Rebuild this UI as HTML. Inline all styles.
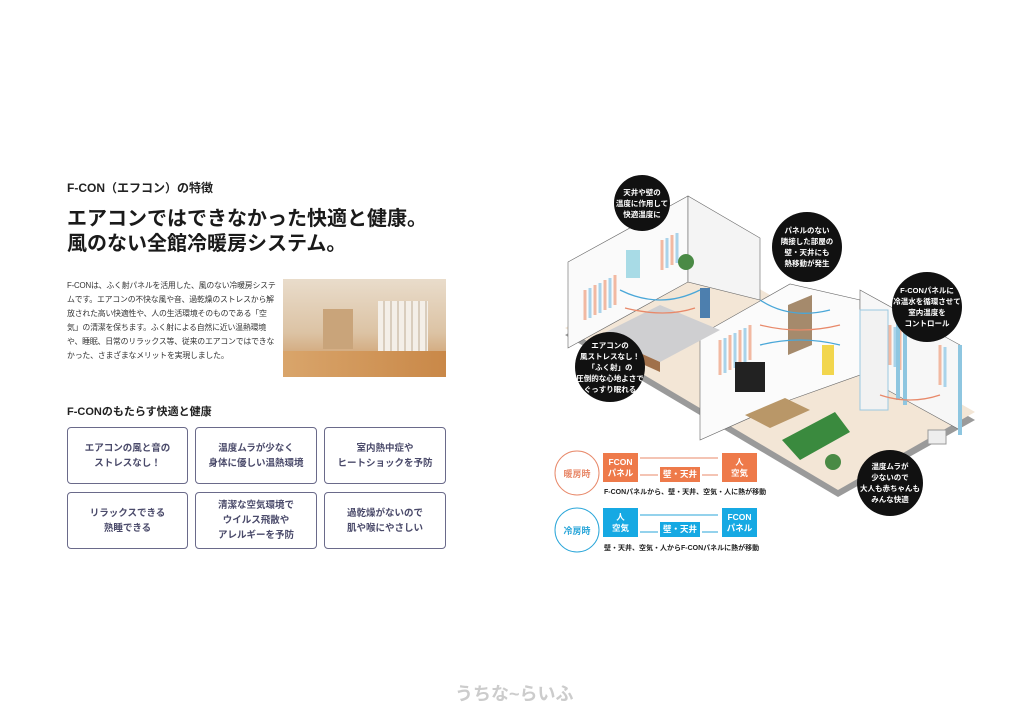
<!DOCTYPE html>
<html><head><meta charset="utf-8"><style>
*{margin:0;padding:0;box-sizing:border-box}
body{width:1024px;height:726px;background:#fff;position:relative;overflow:hidden;font-family:"Liberation Sans","Noto Sans CJK JP",sans-serif;color:#222}
.a{position:absolute}
.box{position:absolute;border:1.5px solid #6a6a8a;border-radius:4px;display:flex;align-items:center;justify-content:center;text-align:center;font-size:9.5px;font-weight:bold;color:#4a4a6a;line-height:15px}
.bub{position:absolute;border-radius:50%;background:#111;color:#fff;font-size:7.5px;font-weight:bold;display:flex;align-items:center;justify-content:center;text-align:center;line-height:11px}
.lb{position:absolute;color:#fff;font-size:8.5px;font-weight:bold;display:flex;align-items:center;justify-content:center;text-align:center;line-height:11px}
</style></head><body>
<div class="a" style="left:67px;top:179px;font-size:12px;font-weight:bold">F-CON（エフコン）の特徴</div>
<div class="a" style="left:67px;top:207px;font-size:20px;font-weight:bold;line-height:25px;color:#1a1a1a">エアコンではできなかった快適と健康。<br>風のない全館冷暖房システム。</div>
<div class="a" style="left:67px;top:279px;font-size:7.9px;line-height:14px;color:#333;width:210px;letter-spacing:-0.2px">F-CONは、ふく射パネルを活用した、風のない冷暖房システムです。エアコンの不快な風や音、過乾燥のストレスから解放された高い快適性や、人の生活環境そのものである「空気」の清潔を保ちます。ふく射による自然に近い温熱環境や、睡眠、日常のリラックス等、従来のエアコンではできなかった、さまざまなメリットを実現しました。</div>
<div class="a" style="left:283px;top:279px;width:163px;height:98px;background:linear-gradient(180deg,#e9dccb 0%,#dcc3a4 55%,#c98f55 100%)">
<div class="a" style="left:95px;top:22px;width:50px;height:58px;background:repeating-linear-gradient(90deg,#f4efe8 0 5px,#d9cdbd 5px 7px)"></div>
<div class="a" style="left:40px;top:30px;width:30px;height:40px;background:#c9a47a"></div>
<div class="a" style="left:0;top:72px;width:163px;height:26px;background:linear-gradient(90deg,#d9a56b,#c98848)"></div></div>
<div class="a" style="left:67px;top:403px;font-size:11px;font-weight:bold">F-CONのもたらす快適と健康</div>
<div class="box" style="left:67px;top:427px;width:121px;height:57px">エアコンの風と音の<br>ストレスなし！</div>
<div class="box" style="left:195px;top:427px;width:122px;height:57px">温度ムラが少なく<br>身体に優しい温熱環境</div>
<div class="box" style="left:324px;top:427px;width:122px;height:57px">室内熱中症や<br>ヒートショックを予防</div>
<div class="box" style="left:67px;top:492px;width:121px;height:57px">リラックスできる<br>熟睡できる</div>
<div class="box" style="left:195px;top:492px;width:122px;height:57px">清潔な空気環境で<br>ウイルス飛散や<br>アレルギーを予防</div>
<div class="box" style="left:324px;top:492px;width:122px;height:57px">過乾燥がないので<br>肌や喉にやさしい</div>

<svg class="a" style="left:0;top:0" width="1024" height="726">
<polygon points="565,335 700,262 975,420 838,497" fill="#9a9a9a"/>
<polygon points="565,328 700,255 975,412 838,490" fill="#f3e6d6"/>
<polygon points="568,262 688,196 688,282 568,348" fill="#fafafa" stroke="#666" stroke-width=".6"/>
<polygon points="688,196 760,238 760,300 688,282" fill="#f4f4f4" stroke="#666" stroke-width=".6"/>
<polygon points="700,335 790,284 860,300 860,375 790,400 700,440" fill="#fbfbfb" stroke="#666" stroke-width=".6"/>
<polygon points="860,290 960,345 960,430 860,375" fill="#f7f7f7" stroke="#666" stroke-width=".6"/>
<g stroke-width="3">
<path d="M585 290v30M595 285v30M605 280v30M615 275v30M662 240v30M672 235v30M720 340v35M730 335v35M740 330v35M750 325v35M880 320v40M890 325v40M900 330v40M940 345v40" stroke="#f2b9a2"/>
<path d="M590 288v30M600 283v30M610 278v30M667 238v30M677 233v30M725 338v35M735 333v35M745 328v35M885 322v40M895 327v40M905 332v40M945 347v40" stroke="#a9d3ea"/>
</g>
<rect x="626" y="250" width="14" height="28" fill="#a8dbe6"/>
<polygon points="600,335 660,305 720,330 660,362" fill="#cfcfd1"/>
<polygon points="600,335 660,362 660,372 600,345" fill="#a0704a"/>
<rect x="735" y="362" width="30" height="30" fill="#222"/>
<polygon points="745,415 785,398 810,410 770,428" fill="#b99768"/>
<polygon points="782,440 835,412 850,432 800,460" fill="#3a8a3e"/>
<polygon points="788,305 812,295 812,345 788,355" fill="#a58a6c"/>
<rect x="822" y="345" width="12" height="30" fill="#f2d64d"/>
<rect x="860" y="310" width="28" height="100" fill="#f2f2f2" stroke="#9bc8e0"/>
<path d="M898 305v95M905 310v95M960 345v90" stroke="#8ec6e0" stroke-width="4" fill="none"/>
<rect x="928" y="430" width="18" height="14" fill="#eee" stroke="#999"/>
<rect x="700" y="288" width="10" height="30" fill="#4d7fae"/>
<circle cx="686" cy="262" r="8" fill="#4a8a45"/><circle cx="833" cy="462" r="8" fill="#4a8a45"/>
<g fill="none" stroke-width="1.3">
<path d="M620 290q40 20 80 0M760 300q30 20 70 10M760 345q40-10 80 0" stroke="#4aa7d8"/>
<path d="M625 308q40 10 70 0M760 325q40 10 80 0M880 395q30 10 60 0" stroke="#e8896a"/>
</g>
<g font-size="11" font-weight="bold" font-family="Liberation Sans,Noto Sans CJK JP,sans-serif">
<circle cx="577" cy="473" r="22" fill="#fff" stroke="#e8896a" stroke-width="1"/>
<text x="577" y="477" fill="#e8896a" text-anchor="middle" font-size="9">暖房時</text>
<circle cx="577" cy="530" r="22" fill="#fff" stroke="#2aa6d9" stroke-width="1"/>
<text x="577" y="534" fill="#2aa6d9" text-anchor="middle" font-size="9">冷房時</text>
<g stroke-width="1" fill="none"><path d="M640 458h78M640 475h18M702 475h16" stroke="#e8896a"/><path d="M640 515h78M640 532h18M702 532h16" stroke="#2aa6d9"/></g>
</g>
</svg>
<div class="lb" style="left:603px;top:453px;width:35px;height:29px;background:#ee7a4a">FCON<br>パネル</div>
<div class="lb" style="left:660px;top:467px;width:40px;height:15px;background:#ee7a4a">壁・天井</div>
<div class="lb" style="left:722px;top:453px;width:35px;height:29px;background:#ee7a4a">人<br>空気</div>
<div class="a" style="left:604px;top:487px;font-size:7px;font-weight:bold">F-CONパネルから、壁・天井、空気・人に熱が移動</div>
<div class="lb" style="left:603px;top:508px;width:35px;height:29px;background:#16a9e3">人<br>空気</div>
<div class="lb" style="left:660px;top:522px;width:40px;height:15px;background:#16a9e3">壁・天井</div>
<div class="lb" style="left:722px;top:508px;width:35px;height:29px;background:#16a9e3">FCON<br>パネル</div>
<div class="a" style="left:604px;top:543px;font-size:7px;font-weight:bold">壁・天井、空気・人からF-CONパネルに熱が移動</div>
<div class="bub" style="left:614px;top:175px;width:56px;height:56px">天井や壁の<br>温度に作用して<br>快適温度に</div>
<div class="bub" style="left:772px;top:212px;width:70px;height:70px">パネルのない<br>隣接した部屋の<br>壁・天井にも<br>熱移動が発生</div>
<div class="bub" style="left:892px;top:272px;width:70px;height:70px">F-CONパネルに<br>冷温水を循環させて<br>室内温度を<br>コントロール</div>
<div class="bub" style="left:575px;top:332px;width:70px;height:70px">エアコンの<br>風ストレスなし！<br>「ふく射」の<br>圧倒的な心地よさで<br>ぐっすり眠れる</div>
<div class="bub" style="left:857px;top:450px;width:66px;height:66px">温度ムラが<br>少ないので<br>大人も赤ちゃんも<br>みんな快適</div>
<div class="a" style="left:455px;top:680px;font-size:18px;font-weight:bold;color:#ccc">うちな~らいふ</div>
</body></html>
